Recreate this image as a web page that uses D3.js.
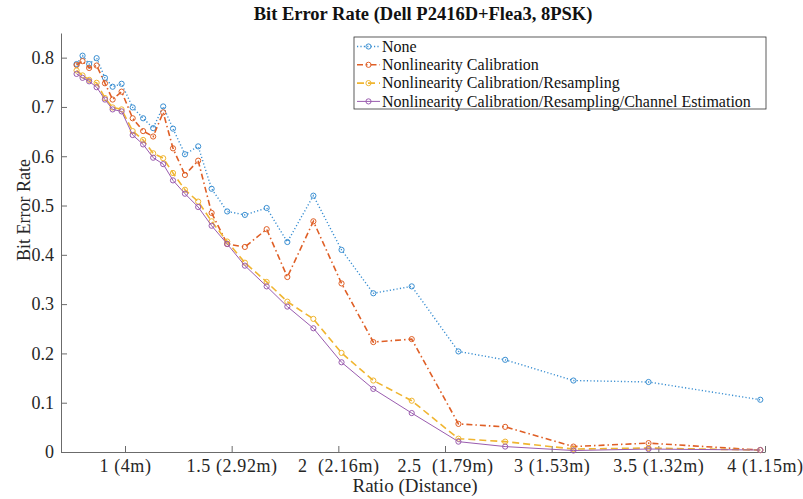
<!DOCTYPE html>
<html>
<head>
<meta charset="utf-8">
<script src="https://cdn.jsdelivr.net/npm/d3@7"></script>
<style>
  body { margin: 0; background: #fff; }
  text { font-family: "Liberation Serif", "DejaVu Serif", serif; }
</style>
</head>
<body>
<div id="berChart"></div>
<script>
// ratio values (x)
var ratios = [0.773, 0.801, 0.832, 0.867, 0.906, 0.942, 0.984, 1.036, 1.085, 1.132,
  1.179, 1.225, 1.281, 1.343, 1.406, 1.479, 1.562, 1.664, 1.761, 1.883,
  2.015, 2.164, 2.344, 2.563, 2.782, 3.102, 3.454, 3.978];

var berNone = [0.787, 0.804, 0.787, 0.799, 0.759, 0.741, 0.747, 0.699, 0.677, 0.657,
  0.701, 0.656, 0.604, 0.620, 0.534, 0.488, 0.481, 0.495, 0.426, 0.520,
  0.410, 0.322, 0.336, 0.204, 0.187, 0.145, 0.142, 0.106];

var berCalib = [0.785, 0.793, 0.779, 0.784, 0.748, 0.715, 0.731, 0.677, 0.651, 0.640,
  0.689, 0.616, 0.562, 0.591, 0.485, 0.422, 0.416, 0.452, 0.355, 0.468,
  0.342, 0.223, 0.229, 0.057, 0.051, 0.011, 0.018, 0.004];

var berResamp = [0.774, 0.764, 0.755, 0.749, 0.718, 0.699, 0.695, 0.651, 0.633, 0.606,
  0.596, 0.566, 0.532, 0.508, 0.468, 0.427, 0.384, 0.345, 0.305, 0.270,
  0.201, 0.145, 0.104, 0.027, 0.021, 0.006, 0.008, 0.004];

var berChanEst = [0.767, 0.759, 0.752, 0.740, 0.715, 0.695, 0.691, 0.643, 0.624, 0.597,
  0.584, 0.551, 0.524, 0.497, 0.459, 0.422, 0.378, 0.336, 0.295, 0.251,
  0.182, 0.128, 0.079, 0.021, 0.011, 0.003, 0.006, 0.004];

var seriesNames = ["None", "Nonlinearity Calibration", "Nonlinearity Calibration/Resampling",
  "Nonlinearity Calibration/Resampling/Channel Estimation"];

var xTickValues = [1, 1.5, 2, 2.5, 3, 3.5, 4];
var xTickLabels = ["1 (4m)", "1.5 (2.92m)", "2  (2.16m)", "2.5  (1.79m)", "3 (1.53m)", "3.5 (1.32m)", "4 (1.15m)"];
var yTickValues = [0, 0.1, 0.2, 0.3, 0.4, 0.5, 0.6, 0.7, 0.8];

var series = [
  { name: seriesNames[0], values: berNone,    color: "#3a8fd2", dash: "1.2,2.2",     width: 1.4 },
  { name: seriesNames[1], values: berCalib,   color: "#df5f26", dash: "6,3,1.5,3",   width: 1.6 },
  { name: seriesNames[2], values: berResamp,  color: "#f0b530", dash: "7,4",         width: 1.6 },
  { name: seriesNames[3], values: berChanEst, color: "#9a5caf", dash: null,          width: 1 }
];

var svg = d3.select("#berChart")
  .append("svg")
  .attr("width", 803)
  .attr("height", 499);

// plot box (don't use "top" as a global name, it's window.top)
var plotLeft = 61, plotRight = 765, plotTop = 33, plotBottom = 452;

var xScale = d3.scaleLinear().domain([0.7, 4]).range([plotLeft, plotRight]);
var yScale = d3.scaleLinear().domain([0, 0.85]).range([plotBottom, plotTop]);

// axes (ticks point inward like matlab)
var xAxis = svg.append("g")
  .attr("transform", "translate(0," + plotBottom + ")")
  .call(d3.axisBottom(xScale).tickValues(xTickValues).tickSizeInner(-6).tickSizeOuter(0).tickPadding(5)
    .tickFormat(function (d, i) { return xTickLabels[i]; }));

var yAxis = svg.append("g")
  .attr("transform", "translate(" + plotLeft + ",0)")
  .call(d3.axisLeft(yScale).tickValues(yTickValues).tickSizeInner(-6).tickSizeOuter(0).tickPadding(7)
    .tickFormat(function (d) { return d === 0 ? "0" : d3.format(".1f")(d); }));

[xAxis, yAxis].forEach(function (ax) {
  ax.select(".domain").attr("stroke", "#6b6b6b");
  ax.selectAll(".tick line").attr("stroke", "#6b6b6b");
  ax.selectAll(".tick text")
    .style("font-family", "Liberation Serif")
    .style("font-size", "18px")
    .style("white-space", "pre")
    .attr("fill", "#262626");
});
xAxis.selectAll(".tick text")
  .attr("dy", "0.85em")
  .style("letter-spacing", "0.6px");

// lines + markers
var line = d3.line()
  .x(function (d, i) { return xScale(ratios[i]); })
  .y(function (d) { return yScale(d); });

series.forEach(function (s) {
  svg.append("path")
    .datum(s.values)
    .attr("d", line)
    .attr("fill", "none")
    .attr("stroke", s.color)
    .attr("stroke-width", s.width)
    .attr("stroke-dasharray", s.dash);

  svg.selectAll(null)
    .data(s.values)
    .enter()
    .append("circle")
    .attr("cx", function (d, i) { return xScale(ratios[i]); })
    .attr("cy", function (d) { return yScale(d); })
    .attr("r", 2.6)
    .attr("fill", "none")
    .attr("stroke", s.color)
    .attr("stroke-width", 1);
});

// title and axis labels
svg.append("text")
  .attr("x", 423)
  .attr("y", 20)
  .attr("text-anchor", "middle")
  .style("font-size", "18.5px")
  .style("font-weight", "bold")
  .attr("fill", "#111")
  .text("Bit Error Rate (Dell P2416D+Flea3, 8PSK)");

svg.append("text")
  .attr("x", 415)
  .attr("y", 492)
  .attr("text-anchor", "middle")
  .style("font-size", "19px")
  .attr("fill", "#262626")
  .text("Ratio (Distance)");

svg.append("text")
  .attr("transform", "translate(30,210) rotate(-90)")
  .attr("text-anchor", "middle")
  .style("font-size", "18px")
  .attr("fill", "#262626")
  .text("Bit Error Rate");

// legend
var lgX = 354, lgY = 37, rowH = 18.3;
svg.append("rect")
  .attr("x", lgX)
  .attr("y", lgY)
  .attr("width", 412)
  .attr("height", 72)
  .attr("fill", "#fff")
  .attr("stroke", "#333")
  .attr("stroke-width", 0.8);

var legendRows = svg.selectAll("g.legendRow")
  .data(series)
  .enter()
  .append("g")
  .attr("class", "legendRow")
  .attr("transform", function (d, i) { return "translate(" + lgX + "," + (lgY + 9.5 + i * rowH) + ")"; });

legendRows.append("line")
  .attr("x1", 3).attr("x2", 26)
  .attr("y1", 0).attr("y2", 0)
  .attr("stroke", function (d) { return d.color; })
  .attr("stroke-width", function (d) { return d.width; })
  .attr("stroke-dasharray", function (d) { return d.dash; });

legendRows.append("circle")
  .attr("cx", 14.5).attr("cy", 0).attr("r", 2.6)
  .attr("fill", "none")
  .attr("stroke", function (d) { return d.color; });

legendRows.append("text")
  .attr("x", 28)
  .attr("y", 0)
  .attr("dy", "0.33em")
  .style("font-size", "16px")
  .attr("fill", "#111")
  .text(function (d) { return d.name; });
</script>
</body>
</html>
